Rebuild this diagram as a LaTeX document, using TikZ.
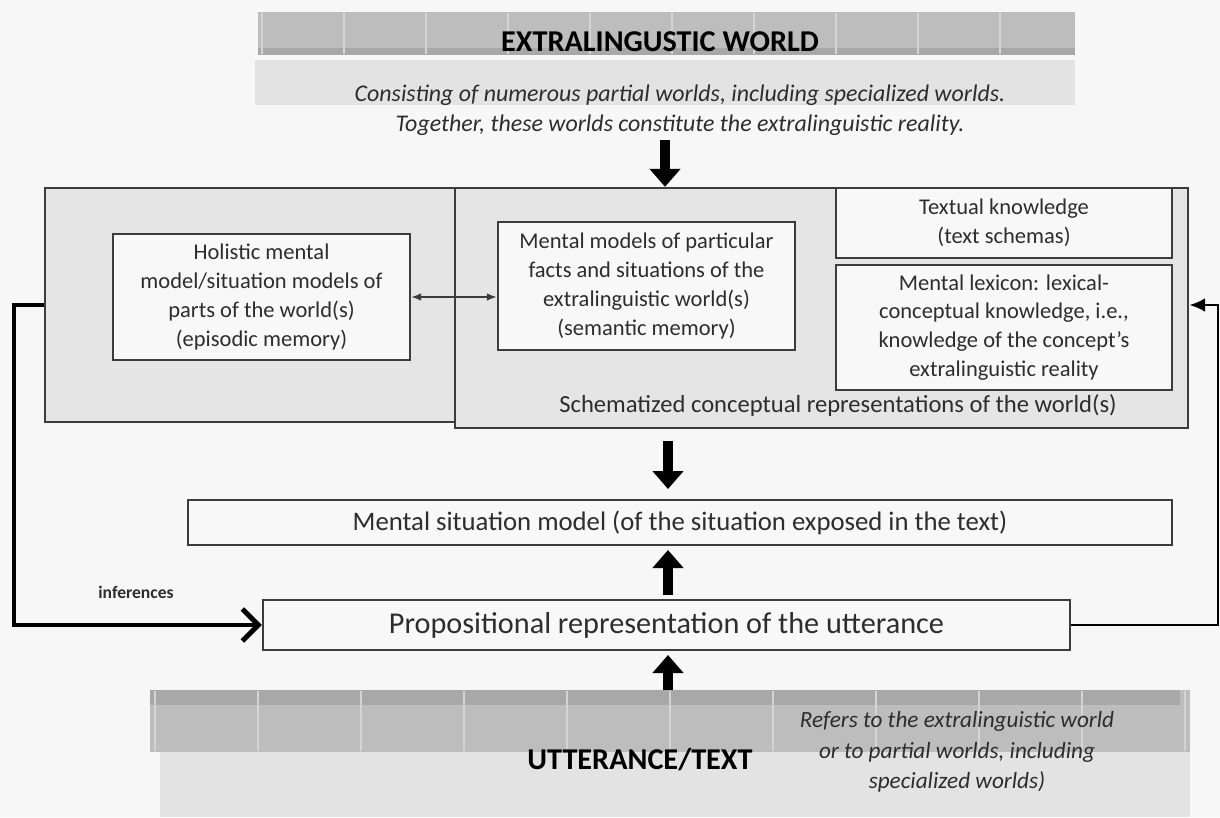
\documentclass[tikz,border=0pt]{standalone}
\usepackage{fontspec}
\setmainfont{Carlito}
\usetikzlibrary{arrows.meta, positioning, calc}

\definecolor{pagegray}{RGB}{247,247,247}
\definecolor{bandgray}{RGB}{189,189,189}
\definecolor{banddark}{RGB}{168,168,168}
\definecolor{stripegray}{RGB}{212,212,212}
\definecolor{lightband}{RGB}{227,227,227}
\definecolor{framegray}{RGB}{229,229,229}
\definecolor{boxwhite}{RGB}{248,248,248}
\definecolor{linegray}{RGB}{60,60,60}
\definecolor{inkgray}{RGB}{45,45,45}

\begin{document}
\begin{tikzpicture}[x=0.025cm, y=-0.025cm,
    framebox/.style={draw=linegray, line width=1.6pt, fill=framegray, inner sep=0pt},
    textbox/.style={draw=linegray, line width=1.4pt, fill=boxwhite, align=center, inner sep=0pt,
      text=inkgray, font=\fontsize{16}{20.5}\selectfont},
    widebox/.style={draw=linegray, line width=1.4pt, fill=boxwhite, inner sep=0pt,
      text=inkgray},
    fatarrow/.style={line width=7pt, -{Triangle[length=4.5mm,width=7.5mm]}}]

    % page and fixed margins
    \fill[pagegray] (0,0) rectangle (1220,817);
    \useasboundingbox (0,0) rectangle (1220,817);

    % extralinguistic world band at the top
    \node[fill=bandgray, minimum width=20.425cm, minimum height=1.075cm, inner sep=0pt] (worldband) at (666.5,33.5) {};
    \fill[banddark] (258,48) rectangle (1075,55);
    \foreach \x in {262,344,...,1050}
        \draw[stripegray, line width=2pt] (\x,13) -- (\x,54);
    \fill[lightband] (255,60) rectangle (1075,105);
    \node[font=\fontsize{21.5}{24}\selectfont\bfseries] (worldtitle) at (660,42) {EXTRALINGUSTIC WORLD};
    \node[align=center, text=inkgray, font=\fontsize{17}{21.5}\selectfont\itshape] (worlddesc) at (680,110)
        {Consisting of numerous partial worlds, including specialized worlds.\\
         Together, these worlds constitute the extralinguistic reality.};

    % the two frames of knowledge
    \node[framebox, minimum width=10.25cm, minimum height=5.85cm] (episodicframe) at (250,305) {};
    \node[framebox, minimum width=18.325cm, minimum height=6cm] (rightframe) at (821.5,308) {};

    \node[textbox, minimum width=7.425cm, minimum height=3.15cm] (episodic) at (261.5,297)
        {Holistic mental\\ model/situation models of\\ parts of the world(s)\\ (episodic memory)};
    \node[textbox, minimum width=7.425cm, minimum height=3.2cm] (semantic) at (646.5,286)
        {Mental models of particular\\ facts and situations of the\\ extralinguistic world(s)\\ (semantic memory)};
    \node[textbox, minimum width=8.4cm, minimum height=1.75cm] (textual) at (1004,223)
        {Textual knowledge\\ (text schemas)};
    \node[textbox, minimum width=8.4cm, minimum height=3.125cm] (lexicon) at (1004,327.5)
        {Mental lexicon: lexical-\\ conceptual knowledge, i.e.,\\ knowledge of the concept's\\ extralinguistic reality};
    \node[text=inkgray, font=\fontsize{17.5}{20}\selectfont] (schemalabel) at (838,405)
        {Schematized conceptual representations of the world(s)};

    \draw[linegray, line width=1.2pt, {Latex[length=2.5mm]}-{Latex[length=2.5mm]}] (episodic) -- (semantic.west |- episodic);

    % situation model and propositional representation
    \node[widebox, minimum width=24.6cm, minimum height=1.125cm, font=\fontsize{19}{22}\selectfont] (situation) at (680,522.5)
        {Mental situation model (of the situation exposed in the text)};
    \node[widebox, minimum width=20.175cm, minimum height=1.25cm, font=\fontsize{21.5}{24}\selectfont] (proposition) at (666.5,625)
        {Propositional representation of the utterance};

    % utterance band at the bottom
    \node[fill=bandgray, minimum width=26cm, minimum height=1.55cm, inner sep=0pt] (utterband) at (670,721) {};
    \fill[banddark] (150,690) rectangle (1180,705);
    \foreach \x in {155,258,...,1190}
        \draw[stripegray, line width=2pt] (\x,691) -- (\x,751);
    \fill[lightband] (160,752) rectangle (1190,817);
    \node[font=\fontsize{21.5}{24}\selectfont\bfseries] (uttertitle) at (640,760) {UTTERANCE/TEXT};
    \node[align=center, text=inkgray, font=\fontsize{16.5}{21.5}\selectfont\itshape] (utterdesc) at (957,752)
        {Refers to the extralinguistic world\\ or to partial worlds, including\\ specialized worlds)};

    % main vertical flow
    \coordinate (topaxis) at (665,0);
    \coordinate (mainaxis) at (668,0);
    \draw[fatarrow] (topaxis |- worlddesc.south) -- (topaxis |- rightframe.north);
    \draw[fatarrow, shorten <=3mm, shorten >=2.5mm] (mainaxis |- rightframe.south) -- (mainaxis |- situation.north);
    \draw[fatarrow, shorten <=1mm, shorten >=1mm] (mainaxis |- proposition.north) -- (mainaxis |- situation.south);
    \draw[fatarrow, shorten >=1mm] (mainaxis |- utterband.north) -- (mainaxis |- proposition.south);

    % inferences loop on the left, feedback on the right
    \coordinate (leftturn) at (14,0);
    \coordinate (rightturn) at (1218,0);
    \draw[line width=3.5pt, line join=miter, -{Straight Barb[length=4mm,width=8mm,line width=3.5pt]}]
        (episodicframe.west) -- (leftturn |- episodicframe.west) -- (leftturn |- proposition.west) -- (proposition.west);
    \node[font=\fontsize{12.5}{14}\selectfont\bfseries, text=inkgray] (inferlabel) at (136,592) {inferences};
    \draw[line width=2pt, -{Latex[length=4mm,width=3.5mm]}]
        (proposition.east) -- (rightturn |- proposition.east) -- (rightturn |- episodicframe.west) -- (rightframe.east |- episodicframe.west);

\end{tikzpicture}
\end{document}
